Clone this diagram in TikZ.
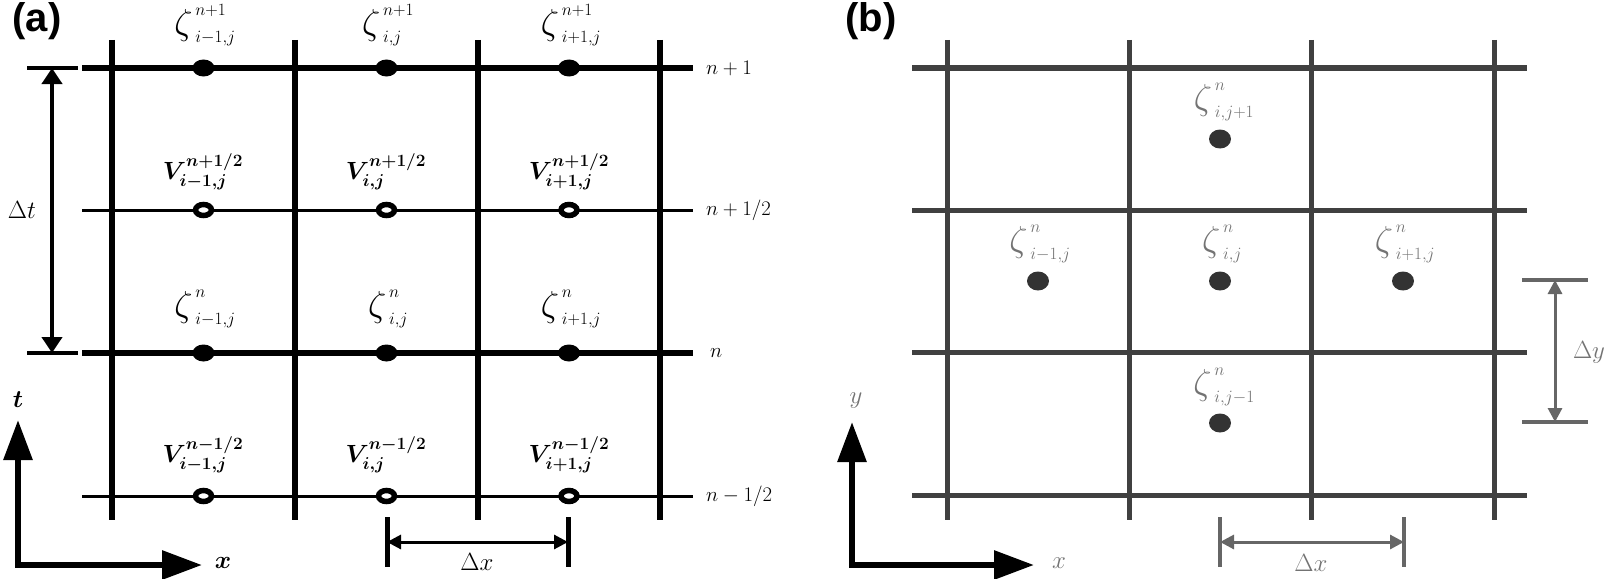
\documentclass[tikz,border=0pt]{standalone}
\usepackage{fontspec}
\usepackage{amsmath}
\usepackage{bm}
\usepackage{graphicx}
\newfontfamily\panelfont{Liberation Sans}
\newcommand{\Zbig}{\mathord{\scalebox{1.45}{$\zeta$}}}
\usetikzlibrary{arrows.meta,shapes.geometric}
\begin{document}
\begin{tikzpicture}[x=1pt,y=-1pt,
  thickline/.style={line width=6pt},
  thinline/.style={line width=3pt},
  gridb/.style={line width=5pt, draw=black!75},
  fdot/.style={ellipse, fill=black, minimum width=22pt, minimum height=17pt, inner sep=0pt},
  hdot/.style={ellipse, draw=black, fill=white, line width=5.5pt, minimum width=16pt, minimum height=11pt, inner sep=0pt},
  bdot/.style={ellipse, fill=black!80, minimum width=22pt, minimum height=19pt, inner sep=0pt},
  mlab/.style={font=\fontsize{26}{30}\selectfont, inner sep=0pt},
  blab/.style={font=\fontsize{23}{27}\selectfont, text=black!55, inner sep=0pt},
  rlab/.style={font=\fontsize{20}{24}\selectfont, inner sep=0pt, anchor=west},
  panellab/.style={font=\panelfont\bfseries\fontsize{40}{44}\selectfont, inner sep=0pt},
  axisarrow/.style={line width=6pt, {Triangle[length=40pt,width=28pt]}-{Triangle[length=40pt,width=28pt]}},
  dimtick/.style={line width=5pt},
  dimarrow/.style={line width=3pt, {Triangle[length=14pt,width=14pt]}-{Triangle[length=14pt,width=14pt]}},
]
\useasboundingbox (0,0) rectangle (1608,578);

% ---------------- panel (a)
\node[panellab] (pa) at (37,21) {(a)};
\foreach \x in {112,295,478,660} \draw[thickline] (\x,40) -- (\x,520);
\draw[thickline] (82,68) -- (693,68);
\draw[thinline] (82,210) -- (693,210);
\draw[thickline] (82,353) -- (693,353);
\draw[thinline] (82,496) -- (693,496);

\node[fdot] (za1) at (203.5,68) {};
\node[fdot] (za2) at (386.5,68) {};
\node[fdot] (za3) at (569,68) {};
\node[hdot] (va1) at (203.5,210) {};
\node[hdot] (va2) at (386.5,210) {};
\node[hdot] (va3) at (569,210) {};
\node[fdot] (zb1) at (203.5,353) {};
\node[fdot] (zb2) at (386.5,353) {};
\node[fdot] (zb3) at (569,353) {};
\node[hdot] (vb1) at (203.5,496) {};
\node[hdot] (vb2) at (386.5,496) {};
\node[hdot] (vb3) at (569,496) {};

\node[mlab] (lza1) at (205,25) {$\Zbig^{\,n+1}_{\,i-1,j}$};
\node[mlab] (lza2) at (388,25) {$\Zbig^{\,n+1}_{\,i,j}$};
\node[mlab] (lza3) at (571,25) {$\Zbig^{\,n+1}_{\,i+1,j}$};
\node[mlab] (lva1) at (203,172) {$\bm{V}^{\bm{n+1/2}}_{\bm{i-1,j}}$};
\node[mlab] (lva2) at (386,172) {$\bm{V}^{\bm{n+1/2}}_{\bm{i,j}}$};
\node[mlab] (lva3) at (569,172) {$\bm{V}^{\bm{n+1/2}}_{\bm{i+1,j}}$};
\node[mlab] (lzb1) at (205,309) {$\Zbig^{\,n}_{\,i-1,j}$};
\node[mlab] (lzb2) at (388,309) {$\Zbig^{\,n}_{\,i,j}$};
\node[mlab] (lzb3) at (571,309) {$\Zbig^{\,n}_{\,i+1,j}$};
\node[mlab] (lvb1) at (203,455) {$\bm{V}^{\bm{n-1/2}}_{\bm{i-1,j}}$};
\node[mlab] (lvb2) at (386,455) {$\bm{V}^{\bm{n-1/2}}_{\bm{i,j}}$};
\node[mlab] (lvb3) at (569,455) {$\bm{V}^{\bm{n-1/2}}_{\bm{i+1,j}}$};

\node[rlab] (r1) at (706,68) {$n+1$};
\node[rlab] (r2) at (706,210) {$n+1/2$};
\node[rlab] (r3) at (710,353) {$n$};
\node[rlab] (r4) at (706,496) {$n-1/2$};

% Delta t
\coordinate (dt1) at (52,68);
\coordinate (dt2) at (52,353);
\draw[dimtick, line width=4pt] (27,68) -- (78,68);
\draw[dimtick, line width=4pt] (27,353) -- (78,353);
\draw[line width=4pt, {Triangle[length=16pt,width=20pt]}-{Triangle[length=16pt,width=20pt]}] (dt1) -- (dt2);
\node[mlab] (ldt) at (22,210) {$\Delta t$};

% axes (a)
\coordinate (oa) at (18,565);
\coordinate (ta) at (18,420);
\coordinate (xa) at (202,565);
\draw[axisarrow] (ta) -- (oa) -- (xa);
\node[mlab] (lta) at (18,400) {$\bm{t}$};
\node[mlab] (lxa) at (223,563) {$\bm{x}$};

% Delta x (a)
\coordinate (dxa1) at (387,542);
\coordinate (dxa2) at (568,542);
\draw[dimtick] (387,517) -- (387,567);
\draw[dimtick] (568,517) -- (568,567);
\draw[dimarrow] (dxa1) -- (dxa2);
\node[mlab] (ldxa) at (477,562) {$\Delta x$};

% ---------------- panel (b)
\node[panellab] (pb) at (871,21) {(b)};
\foreach \x in {947,1129,1311,1494} \draw[gridb] (\x,40) -- (\x,520);
\foreach \y in {68,210,352,495} \draw[gridb] (912,\y) -- (1527,\y);

\node[bdot] (c1) at (1220,139) {};
\node[bdot] (c2) at (1038,281) {};
\node[bdot] (c3) at (1220,281) {};
\node[bdot] (c4) at (1403,281) {};
\node[bdot] (c5) at (1220,423) {};
\node[blab] (lc1) at (1224,102) {$\Zbig^{\,n}_{\,i,j+1}$};
\node[blab] (lc2) at (1040,244) {$\Zbig^{\,n}_{\,i-1,j}$};
\node[blab] (lc3) at (1222,244) {$\Zbig^{\,n}_{\,i,j}$};
\node[blab] (lc4) at (1405,244) {$\Zbig^{\,n}_{\,i+1,j}$};
\node[blab] (lc5) at (1224,387) {$\Zbig^{\,n}_{\,i,j-1}$};

% axes (b)
\coordinate (ob) at (852,565);
\coordinate (yb) at (852,422);
\coordinate (xb) at (1034,565);
\draw[axisarrow] (yb) -- (ob) -- (xb);
\node[blab] (lyb) at (856,401) {$y$};
\node[blab] (lxb) at (1059,563) {$x$};

% Delta x (b)
\coordinate (dxb1) at (1220,542);
\coordinate (dxb2) at (1404,542);
\draw[dimtick, line width=4pt, draw=black!60] (1220,517) -- (1220,567);
\draw[dimtick, line width=4pt, draw=black!60] (1404,517) -- (1404,567);
\draw[dimarrow, draw=black!60, fill=black!60] (dxb1) -- (dxb2);
\node[blab] (ldxb) at (1311,563) {$\Delta x$};

% Delta y (b)
\coordinate (dyb1) at (1555,280);
\coordinate (dyb2) at (1555,422);
\draw[dimtick, line width=4pt, draw=black!60] (1522,280) -- (1588,280);
\draw[dimtick, line width=4pt, draw=black!60] (1522,422) -- (1588,422);
\draw[dimarrow, draw=black!60, fill=black!60] (dyb1) -- (dyb2);
\node[blab] (ldyb) at (1589,352) {$\Delta y$};
\end{tikzpicture}
\end{document}
